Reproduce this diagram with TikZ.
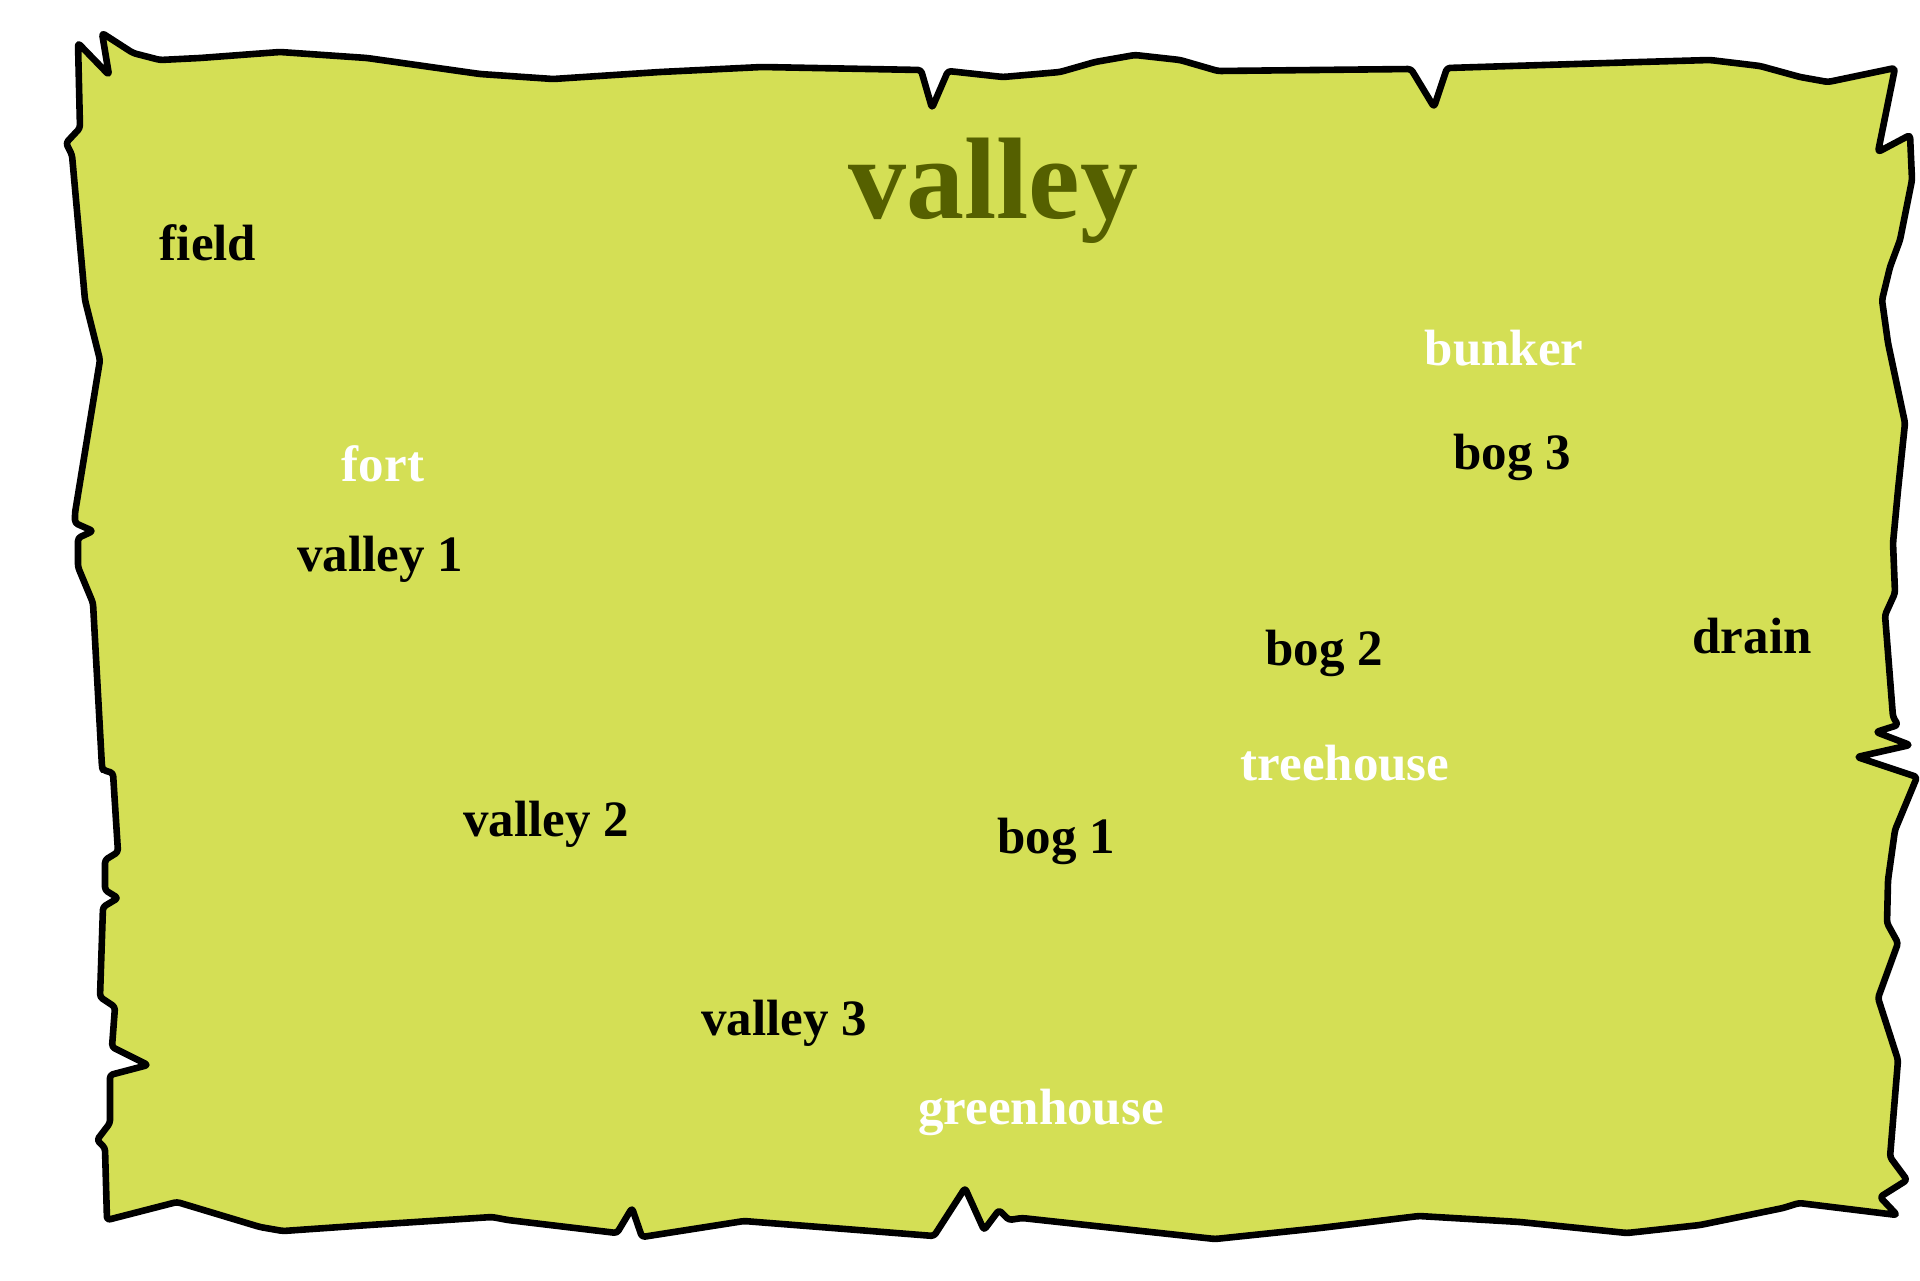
\documentclass[tikz,border=0pt]{standalone}
\usepackage{fontspec}
\setmainfont{Liberation Serif}
\definecolor{paper}{RGB}{212,223,85}
\definecolor{titlecol}{RGB}{85,96,0}
\begin{document}
\begin{tikzpicture}[x=0.5pt,y=-0.5pt,
  lbl/.style={font=\fontsize{25.5}{30}\selectfont\bfseries, anchor=base, inner sep=0pt, text=black},
  wlbl/.style={lbl, text=white},
  ttl/.style={font=\fontsize{58}{66}\selectfont\bfseries, anchor=base, inner sep=0pt, text=titlecol},
  edge/.style={draw=black, fill=paper, line width=3.3pt, line join=round, rounded corners=1.5pt}]
\useasboundingbox (0,0) rectangle (1920,1280);
\path[edge] (78,43) -- (109,75) -- (102,33) -- (133,53) -- (160,60) -- (200,58) -- (280,52) -- (367,58) -- (480,74) -- (553,79) -- (660,72) -- (762,67) -- (921,70) -- (932,108) -- (948,71) -- (1003,77) -- (1060,72) -- (1095,62) -- (1135,55) -- (1180,60) -- (1218,71) -- (1411,69) -- (1434,107) -- (1447,68) -- (1640,62) -- (1710,60) -- (1760,66) -- (1800,77) -- (1828,82) -- (1895,68) -- (1878,152) -- (1910,135) -- (1912,180) -- (1900,240) -- (1890,267) -- (1882,300) -- (1888,343) -- (1905,423) -- (1898,490) -- (1893,543) -- (1895,593) -- (1885,615) -- (1893,717) -- (1898,725) -- (1876,732) -- (1910,745) -- (1857,757) -- (1917,777) -- (1895,830) -- (1888,880) -- (1887,923) -- (1898,943) -- (1878,998) -- (1898,1060) -- (1890,1157) -- (1907,1180) -- (1880,1197) -- (1897,1215) -- (1799,1203) -- (1783,1208) -- (1700,1225) -- (1627,1233) -- (1520,1222) -- (1419,1216) -- (1320,1228) -- (1215,1239) -- (1022,1218) -- (1009,1220) -- (999,1210) -- (984,1230) -- (965,1188) -- (934,1236) -- (744,1221) -- (642,1237) -- (632,1208) -- (617,1233) -- (508,1220) -- (492,1217) -- (369,1225) -- (283,1231) -- (260,1227) -- (177,1202) -- (107,1220) -- (105,1148) -- (97,1140) -- (110,1123) -- (110,1075) -- (148,1065) -- (112,1047) -- (115,1007) -- (100,997) -- (103,907) -- (118,898) -- (105,890) -- (105,860) -- (118,852) -- (113,773) -- (103,770) -- (102,767) -- (93,603) -- (78,567) -- (78,538) -- (93,531) -- (75,523) -- (75,513) -- (100,360) -- (85,300) -- (72,155) -- (66,143) -- (80,128) -- cycle;
\node[ttl] (title) at (993,218) {valley};
\node[lbl] (field) at (208,260) {field};
\node[wlbl] (fort) at (383,481) {fort};
\node[lbl] (v1) at (380,571) {valley 1};
\node[lbl] (v2) at (546,836) {valley 2};
\node[lbl] (v3) at (784,1035) {valley 3};
\node[wlbl] (greenhouse) at (1041,1124) {greenhouse};
\node[lbl] (b1) at (1056,853) {bog 1};
\node[wlbl] (treehouse) at (1345,780) {treehouse};
\node[lbl] (b2) at (1324,665) {bog 2};
\node[lbl] (drain) at (1752,653) {drain};
\node[lbl] (b3) at (1512,469) {bog 3};
\node[wlbl] (bunker) at (1504,365) {bunker};
\end{tikzpicture}
\end{document}
